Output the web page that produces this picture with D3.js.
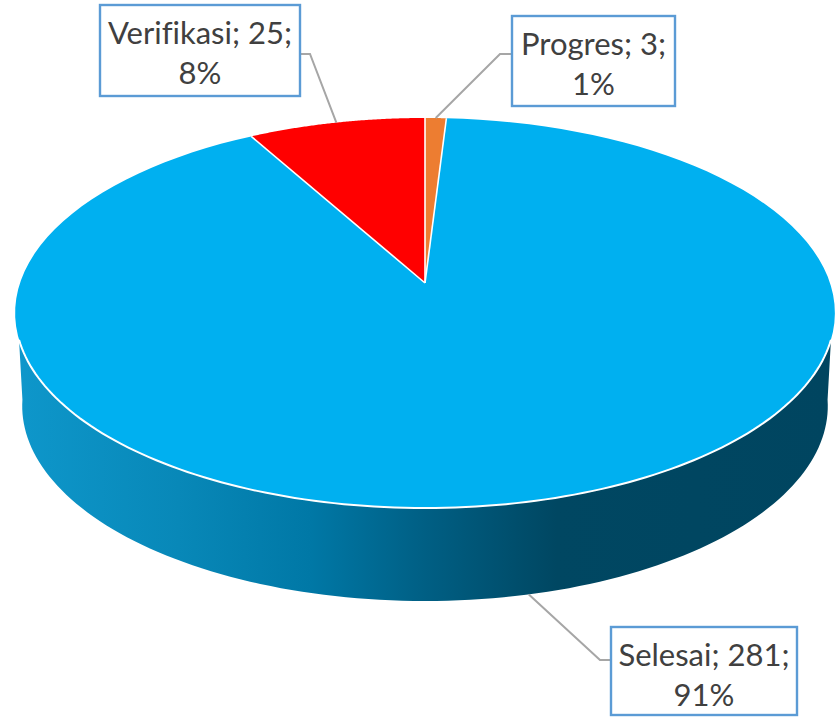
<!DOCTYPE html>
<html><head><meta charset="utf-8">
<script src="https://cdn.jsdelivr.net/npm/d3@7/dist/d3.min.js"></script>
<style>html,body{margin:0;padding:0;background:#fff}svg{display:block}text{font-variant-ligatures:none}</style></head>
<body><svg id="c" width="837" height="721"></svg>
<script>
const categories = ["Progres", "Selesai", "Verifikasi"];
const seriesValues = [3, 281, 25];
const percentLabels = ["1%", "91%", "8%"];
const sliceColors = ["#ED7D31", "#00B0F0", "#FF0000"];

const svg = d3.select("#c");
const pie = d3.pie().value(d => d).sort(null)(seriesValues);
const k = 0.1538;
const top3d = t => { const u = Math.sin(t), v = Math.cos(t), w = 1 + k * v;
  return [425 + 405 * u / w, 283 - 190.4 * v / w]; };
const bot3d = t => { const u = Math.sin(t), v = Math.cos(t), w = 1 + k * v;
  return [425 + 398 * u / w, 376 - 190.4 * v / w]; };
const line = d3.line();
const samples = (a, b, f) => d3.range(0, 121).map(i => f(a + (b - a) * i / 120));

const defs = svg.append("defs");
const grad = defs.append("linearGradient").attr("id", "side").attr("gradientUnits", "userSpaceOnUse")
  .attr("x1", 15).attr("x2", 835).attr("y1", 0).attr("y2", 0);
[[0, "#0E97CB"], [0.2, "#0888B8"], [0.36, "#0078A6"], [0.5, "#005F84"], [0.66, "#004762"], [1, "#004560"]]
  .forEach(s => grad.append("stop").attr("offset", s[0]).attr("stop-color", s[1]));

const rad = d3.scaleLinear().domain([0, 180]).range([0, Math.PI]);
const tipA = rad(106.6), botA = rad(97);
const sidePts = samples(tipA, 2 * Math.PI - tipA, top3d)
  .concat(samples(2 * Math.PI - botA, botA, bot3d));
svg.append("path").attr("d", line(sidePts) + "Z").attr("fill", "url(#side)");

svg.selectAll("path.slice").data(pie).join("path").attr("class", "slice")
  .attr("d", d => line([[425, 283]].concat(samples(d.startAngle, d.endAngle, top3d))) + "Z")
  .attr("fill", (d, i) => sliceColors[i]);

svg.append("path").attr("d", line(samples(tipA, 2 * Math.PI - tipA, top3d)))
  .attr("fill", "none").attr("stroke", "#fff").attr("stroke-width", 2);
svg.selectAll("path.sep").data(pie).join("path").attr("class", "sep")
  .attr("d", d => line([[425, 283], top3d(d.startAngle)]))
  .attr("fill", "none").attr("stroke", "#fff").attr("stroke-width", 1.6);

const boxes = [
  {x: 512, y: 16, w: 163, h: 90, side: "l", ly: 54, dx: -12},
  {x: 611, y: 627, w: 186, h: 88, side: "l", ly: 660, dx: -11},
  {x: 100, y: 5, w: 200, h: 91, side: "r", ly: 54, dx: 10}
];
pie.forEach((d, i) => {
  const b = boxes[i], mid = (d.startAngle + d.endAngle) / 2;
  const anchor = i === 1 ? bot3d(mid) : top3d(mid);
  const bx = b.side === "l" ? b.x : b.x + b.w;
  svg.append("path").attr("d", line([anchor, [bx + b.dx, b.ly], [bx, b.ly]]))
    .attr("fill", "none").attr("stroke", "#A6A6A6").attr("stroke-width", 2);
  svg.append("rect").attr("x", b.x).attr("y", b.y).attr("width", b.w).attr("height", b.h)
    .attr("fill", "#fff").attr("stroke", "#5B9BD5").attr("stroke-width", 2.4);
  const t = svg.append("text").attr("text-anchor", "middle").attr("font-family", "Lato, sans-serif")
    .attr("font-size", 31).attr("fill", "#404040");
  t.append("tspan").attr("x", b.x + b.w / 2).attr("y", b.y + 39).text(categories[i] + "; " + seriesValues[i] + ";");
  t.append("tspan").attr("x", b.x + b.w / 2).attr("y", b.y + 79).text(percentLabels[i]);
});
</script></body></html>
